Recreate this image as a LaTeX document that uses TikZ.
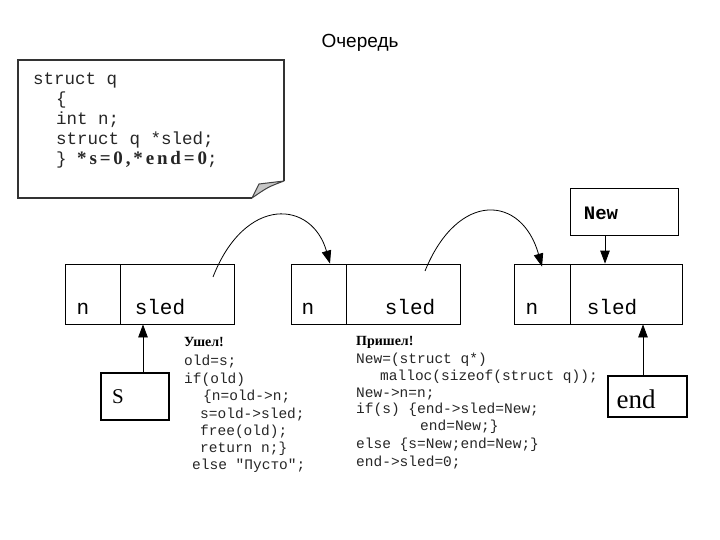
\documentclass[tikz,border=0pt]{standalone}
\usepackage{fontspec}
\setmainfont{Liberation Serif}
\setsansfont{Liberation Sans}
\setmonofont{Liberation Mono}
\newfontfamily\spacedbold[LetterSpace=15,BoldFont={Liberation Serif Bold}]{Liberation Serif}
\usetikzlibrary{arrows.meta}
\begin{document}
\begin{tikzpicture}[x=1pt,y=-1pt,
  cell/.style={draw,line width=0.8pt,minimum height=60pt,inner sep=0pt},
  boxstyle/.style={draw,inner sep=0pt},
  arr/.style={-{Triangle[length=13pt,width=9.5pt]},line width=0.8pt},
  celltext/.style={anchor=base,inner sep=0pt,font=\ttfamily\fontsize{21}{24}\selectfont},
  code/.style={anchor=base west,inner sep=0pt,text=black!85,font=\ttfamily\fontsize{14.5}{17}\selectfont},
  codehead/.style={anchor=base west,inner sep=0pt,font=\rmfamily\bfseries\fontsize{14}{16}\selectfont},
  notecode/.style={anchor=base west,inner sep=0pt,text=black!85,font=\ttfamily\fontsize{17.5}{20}\selectfont},
  page/.style={draw=black!80,line width=1.6pt,line join=miter}]
\useasboundingbox[fill=white] (0,0) rectangle (720,540);

% title
\node[font=\sffamily\fontsize{19}{22}\selectfont] (title) at (360,43) {Очередь};

% note
\draw[page] (252,198) -- (18,198) -- (18,60) -- (284,60) -- (284,181);
\filldraw[fill=gray!45,draw=black!75,line width=1pt,line join=round]
  (252,198) -- (259,184) -- (284,181) .. controls (268,187) .. (252,198);
\node[notecode] (nl1) at (33,85) {struct q};
\node[notecode] (nl2) at (56,105) {\{};
\node[notecode] (nl3) at (56,125) {int n;};
\node[notecode] (nl4) at (56,145) {struct q *sled;};
\node[notecode] (nl5) at (56,165) {\} {\spacedbold\bfseries\fontsize{19}{20}\selectfont *s=0,*end=0};};

% list boxes
\node[cell,minimum width=55pt] (c1n) at (92.5,294) {};
\node[cell,minimum width=114pt,anchor=west] (c1s) at (c1n.east) {};
\node[cell,minimum width=55pt] (c2n) at (318.5,294) {};
\node[cell,minimum width=114pt,anchor=west] (c2s) at (c2n.east) {};
\node[cell,minimum width=56pt] (c3n) at (542,294) {};
\node[cell,minimum width=112pt,anchor=west] (c3s) at (c3n.east) {};

\node[celltext] (t1n) at (83,314) {n};
\node[celltext] (t1s) at (160,314) {sled};
\node[celltext] (t2n) at (308,314) {n};
\node[celltext] (t2s) at (410,314) {sled};
\node[celltext] (t3n) at (532,314) {n};
\node[celltext] (t3s) at (612,314) {sled};

% New box
\node[boxstyle,line width=0.8pt,minimum width=108pt,minimum height=47pt] (newbox) at (624,211.5) {};
\node[anchor=base,inner sep=0pt,font=\ttfamily\bfseries\fontsize{19}{22}\selectfont] (tnew) at (601,219) {New};

% S box
\node[boxstyle,line width=2pt,minimum width=68pt,minimum height=47pt] (sbox) at (135,396.5) {};
\node[anchor=base,inner sep=0pt,font=\rmfamily\fontsize{21}{24}\selectfont] (ts) at (118,403) {S};

% end box
\node[boxstyle,line width=1.3pt,minimum width=79pt,minimum height=41pt] (endbox) at (647.5,396.5) {};
\node[anchor=base,inner sep=0pt,font=\rmfamily\fontsize{27}{30}\selectfont] (tend) at (636,408) {end};

% straight arrows
\draw[arr] ([xshift=8pt]sbox.north) -- ([xshift=8pt]sbox.north |- c1s.south);
\draw[arr] ([xshift=-4.5pt]endbox.north) -- ([xshift=-4.5pt]endbox.north |- c3s.south);
\draw[arr] ([xshift=-19pt]newbox.south) -- ([xshift=-19pt]newbox.south |- c3s.north);

% curved arrows
\coordinate (a1) at (213,277);
\coordinate (a2) at (425,271);
\draw[arr] (a1) .. controls (245,195) and (312,200) .. ([xshift=11.5pt]c2n.north);
\draw[arr] (a2) .. controls (458,190) and (522,195) .. ([yshift=-3pt]c3n.north);

% code blocks
\node[codehead] (l1) at (184,346) {Ушел!};
\node[code] (l2) at (184,365) {old=s;};
\node[code] (l3) at (184,383) {if(old)};
\node[code] (l4) at (203,400) {\{n=old->n;};
\node[code] (l5) at (200,418) {s=old->sled;};
\node[code] (l6) at (200,435) {free(old);};
\node[code] (l7) at (200,452) {return n;\}};
\node[code] (l8) at (192,469) {else "Пусто";};

\node[codehead] (r1) at (356,345) {Пришел!};
\node[code] (r2) at (356,363) {New=(struct q*)};
\node[code] (r3) at (380,380) {malloc(sizeof(struct q));};
\node[code] (r4) at (356,397) {New->n=n;};
\node[code] (r5) at (356,413) {if(s) \{end->sled=New;};
\node[code] (r6) at (420,430) {end=New;\}};
\node[code] (r7) at (356,448) {else \{s=New;end=New;\}};
\node[code] (r8) at (356,466) {end->sled=0;};
\end{tikzpicture}
\end{document}
